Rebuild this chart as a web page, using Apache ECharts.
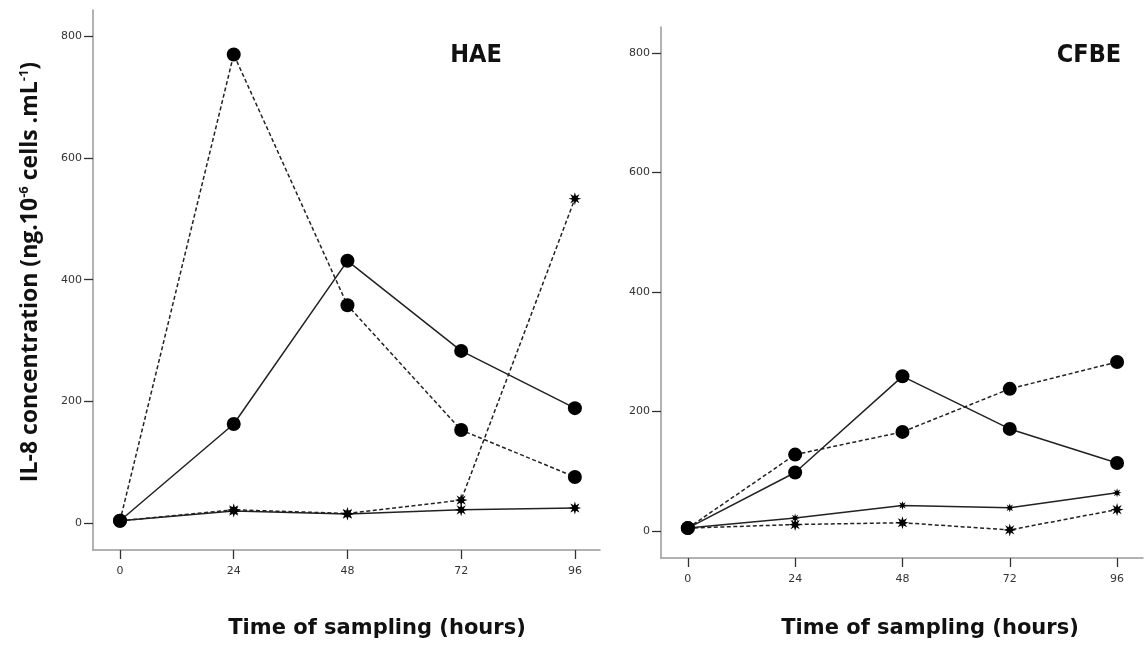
<!DOCTYPE html>
<html><head><meta charset="utf-8">
<script src="https://cdn.jsdelivr.net/npm/echarts@6/dist/echarts.min.js"></script>
<style>html,body{margin:0;padding:0;background:#fff}#c{width:1145px;height:645px}</style>
</head><body><div id="c"></div>
<script>
const hours = [0, 24, 48, 72, 96];
const yTicks = [0, 200, 400, 600, 800];
const haeSolidCircle  = [4, 163, 431, 283, 189];
const haeDashedCircle = [4, 770, 358, 153, 76];
const haeDashedStar   = [4, 22, 16, 38, 533];
const haeSolidStar    = [4, 20, 15, 22, 25];
const cfbeSolidCircle  = [5, 98, 259, 171, 114];
const cfbeDashedCircle = [5, 128, 166, 238, 283];
const cfbeSolidStar    = [5, 22, 43, 39, 64];
const cfbeDashedStar   = [5, 11, 14, 2, 36];

const STAR = 'path://M50 0 L58.42 29.67 L85.36 14.64 L70.33 41.58 L100 50 L70.33 58.42 L85.36 85.36 L58.42 70.33 L50 100 L41.58 70.33 L14.64 85.36 L29.67 58.42 L0 50 L29.67 41.58 L14.64 14.64 L41.58 29.67 Z';

function ser(idx, vals, dashed, symbol, size, z) {
  return {
    type: 'line', xAxisIndex: idx, yAxisIndex: idx, z: z,
    data: hours.map((h, i) => [h, vals[i]]),
    symbol: symbol, symbolSize: size, showSymbol: true,
    itemStyle: { color: '#000' },
    lineStyle: { color: '#222', width: 1.5, type: dashed ? [4, 2.5] : 'solid' },
    animation: false
  };
}

function xAx(idx, min, max) {
  return {
    type: 'value', gridIndex: idx, min: min, max: max,
    axisLine: { show: true, onZero: false, lineStyle: { color: '#999', width: 1.5 } },
    axisTick: { show: true, length: 9, customValues: hours, lineStyle: { color: '#333', width: 1.3 } },
    axisLabel: { customValues: hours, color: '#333', fontSize: 11, fontFamily: 'DejaVu Sans', margin: 16 },
    splitLine: { show: false }
  };
}
function yAx(idx, min, max) {
  return {
    type: 'value', gridIndex: idx, min: min, max: max,
    axisLine: { show: true, onZero: false, lineStyle: { color: '#999', width: 1.5 } },
    axisTick: { show: true, length: 9, customValues: yTicks, lineStyle: { color: '#333', width: 1.3 } },
    axisLabel: { customValues: yTicks, color: '#333', fontSize: 11, fontFamily: 'DejaVu Sans', margin: 11 },
    splitLine: { show: false }
  };
}

const xName = 'Time of sampling (hours)';
const nameStyle = { fontFamily: 'DejaVu Sans', fontWeight: 'bold', fontSize: 21, fill: '#111' };

const chart = echarts.init(document.getElementById('c'), null, { renderer: 'canvas' });
chart.setOption({
  backgroundColor: '#fff',
  animation: false,
  title: [
    { text: 'HAE', left: 471, top: 38, textAlign: 'center', textStyle: { fontFamily: 'DejaVu Sans Condensed', fontWeight: 'bold', fontSize: 25, color: '#111' } },
    { text: 'CFBE', left: 1084, top: 38, textAlign: 'center', textStyle: { fontFamily: 'DejaVu Sans Condensed', fontWeight: 'bold', fontSize: 25, color: '#111' } }
  ],
  graphic: [
    { type: 'text', x: 377, y: 629, style: Object.assign({ text: xName, align: 'center', verticalAlign: 'middle' }, nameStyle) },
    { type: 'text', x: 930, y: 629, style: Object.assign({ text: xName, align: 'center', verticalAlign: 'middle' }, nameStyle) },
    { type: 'text', x: 30, y: 272, rotation: Math.PI / 2,
      style: {
        text: '{b|IL-8 concentration (ng.10}{s|-6}{b| cells .mL}{s|-1}{b|)}',
        align: 'center', verticalAlign: 'middle',
        rich: {
          b: { fontFamily: 'Open Sans', fontWeight: 'bold', fontSize: 23, fill: '#111' },
          s: { fontFamily: 'Open Sans', fontWeight: 'bold', fontSize: 13, fill: '#111', verticalAlign: 'top', padding: [0, 0, 12, 0] }
        }
      }
    }
  ],
  grid: [
    { left: 93, top: 10, width: 507, height: 540 },
    { left: 661, top: 27, width: 482, height: 531 }
  ],
  xAxis: [xAx(0, -5.7, 101.3), xAx(1, -6.0, 101.8)],
  yAxis: [yAx(0, -44, 843), yAx(1, -45, 843.5)],
  series: [
    ser(0, haeSolidStar, false, STAR, 13, 2),
    ser(0, haeDashedStar, true, STAR, 13, 2),
    ser(0, haeSolidCircle, false, 'circle', 14, 3),
    ser(0, haeDashedCircle, true, 'circle', 14, 3),
    ser(1, cfbeSolidStar, false, STAR, 9, 2),
    ser(1, cfbeDashedStar, true, STAR, 13, 2),
    ser(1, cfbeSolidCircle, false, 'circle', 14, 3),
    ser(1, cfbeDashedCircle, true, 'circle', 14, 3)
  ]
});
</script></body></html>
